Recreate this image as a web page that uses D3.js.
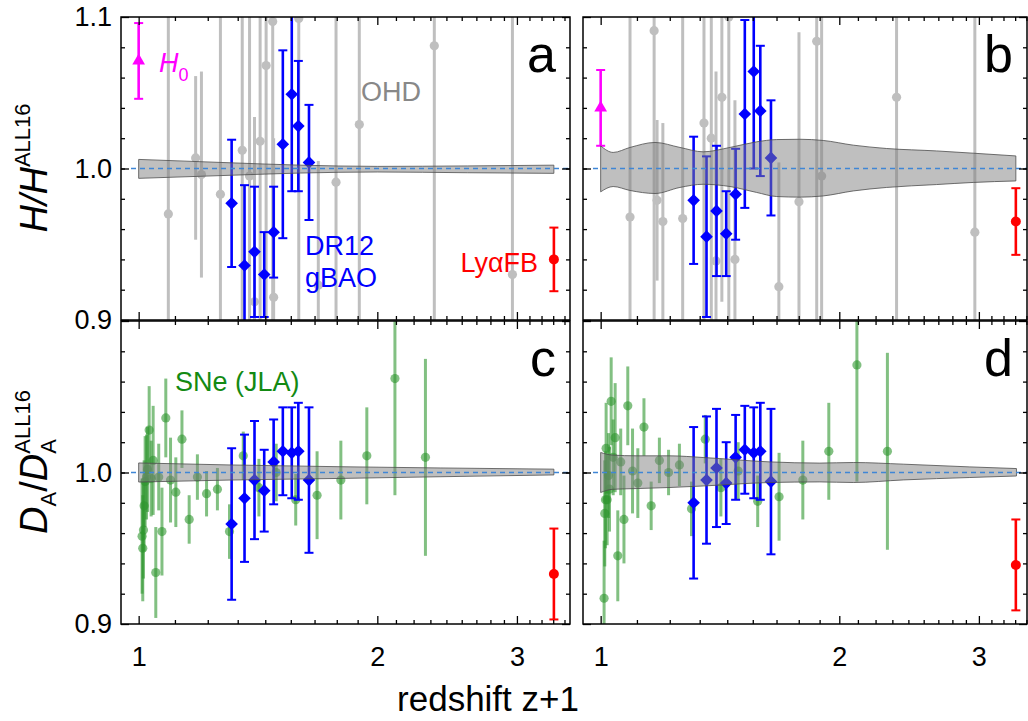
<!DOCTYPE html>
<html>
<head>
<meta charset="utf-8">
<script src="https://cdn.jsdelivr.net/npm/d3@7"></script>
<style>
  body { margin: 0; background: #fff; }
  text { font-family: "Liberation Sans", Arial, sans-serif; }
</style>
</head>
<body>
<svg id="chart" width="1028" height="721"></svg>
<script>
// ---- data (x is redshift 1+z) ----

// DR12 galaxy BAO (tomographic bins)
var baoZ = [1.31, 1.36, 1.40, 1.44, 1.48, 1.52, 1.56, 1.59, 1.64];
var baoH_a = [0.977, 0.936, 0.945, 0.930, 0.958, 1.016, 1.049, 1.028, 1.004];
var baoH_b = [0.979, 0.955, 0.972, 0.957, 0.983, 1.036, 1.064, 1.038, 1.007];
var baoHerr = [0.042, 0.053, 0.043, 0.028, 0.030, 0.062, 0.064, 0.043, 0.038];
var baoDA_c = [0.966, 0.983, 0.995, 0.988, 1.007, 1.014, 1.013, 1.014, 0.995];
var baoDA_d = [0.980, 0.995, 1.003, 0.993, 1.010, 1.015, 1.013, 1.014, 0.994];
var baoDAerr = [0.050, 0.042, 0.039, 0.027, 0.028, 0.029, 0.030, 0.032, 0.048];

// JLA supernovae (binned)
var jlaZ = [1.010, 1.012, 1.014, 1.016, 1.019, 1.023, 1.026, 1.031, 1.037, 1.043, 1.051,
            1.060, 1.070, 1.082, 1.097, 1.114, 1.134, 1.158, 1.186, 1.218, 1.257, 1.302,
            1.355, 1.418, 1.491, 1.578, 1.679, 1.799, 1.940, 2.105, 2.300];
var jlaDA_c = [0.958, 0.950, 0.962, 0.978, 0.994, 0.997, 1.002, 1.028, 0.996, 1.008, 0.934,
               0.997, 0.961, 1.036, 0.995, 0.987, 1.022, 0.969, 0.997, 0.986, 0.989, 0.961,
               1.011, 0.990, 1.000, 0.982, 0.985, 0.995, 1.011, 1.062, 1.010];
var jlaDA_d = [0.917, 0.973, 0.982, 1.016, 0.982, 0.998, 0.989, 1.047, 1.010, 1.023, 0.945,
               1.007, 0.969, 1.044, 1.001, 0.993, 1.030, 0.978, 1.008, 1.000, 1.005, 0.976,
               1.022, 0.990, 1.001, 0.981, 0.984, 0.995, 1.014, 1.071, 1.014];
var jlaErr = [0.038, 0.035, 0.032, 0.030, 0.030, 0.028, 0.028, 0.029, 0.025, 0.036, 0.030,
              0.022, 0.029, 0.026, 0.028, 0.023, 0.019, 0.016, 0.015, 0.015, 0.014, 0.018,
              0.016, 0.019, 0.019, 0.017, 0.029, 0.026, 0.032, 0.077, 0.065];

// OHD (cosmic chronometers), panel a and panel b
var ohdZa = [1.090, 1.180, 1.200, 1.268, 1.351, 1.380, 1.400, 1.423, 1.448, 1.476, 1.480,
             1.592, 1.685, 1.774, 1.898, 2.360, 2.961];
var ohdHa = [0.970, 1.007, 0.996, 0.983, 1.012, 0.995, 0.912, 1.018, 1.068, 1.097, 0.915,
             1.099, 0.923, 0.991, 1.029, 1.081, 0.930];
var ohdErrA = [0.20, 0.054, 0.068, 0.20, 0.20, 0.20, 0.122, 0.20, 0.20, 0.20, 0.105,
               0.20, 0.082, 0.20, 0.20, 0.20, 0.20];
var ohdZb = [1.089, 1.168, 1.178, 1.198, 1.269, 1.350, 1.379, 1.398, 1.422, 1.451, 1.477,
             1.678, 1.779, 1.873, 1.900, 2.362, 2.965];
var ohdHb = [0.968, 1.091, 0.979, 0.965, 0.967, 1.030, 1.020, 0.939, 1.047, 1.100, 0.940,
             0.922, 0.978, 1.084, 0.995, 1.047, 0.958];
var ohdErrB = [0.20, 0.20, 0.053, 0.065, 0.20, 0.20, 0.20, 0.125, 0.135, 0.20, 0.105,
               0.082, 0.112, 0.20, 0.20, 0.20, 0.20];

// H0 (z=0) in panels a, b ; Ly-alpha forest BAO in panels a, b, c, d
var h0Z = 1.0;
var h0Val = [1.071, 1.040];
var h0Err = [0.025, 0.025];
var lyaZ = 3.34;
var lyaVal = [0.940, 0.965, 0.933, 0.939];
var lyaErr = [0.021, 0.022, 0.030, 0.030];

// reconstruction bands
var bandZa = [1.0, 1.3, 1.6, 2.0, 2.6, 3.34];
var bandLoA = [0.9935, 0.9955, 0.9970, 0.9977, 0.9972, 0.9968];
var bandHiA = [1.0060, 1.0038, 1.0022, 1.0014, 1.0017, 1.0022];

var bandZb = [1.000, 1.037, 1.089, 1.171, 1.259, 1.347, 1.456, 1.573, 1.667, 1.784, 1.909,
              2.083, 2.295, 2.653, 2.951, 3.340];
var bandHiB = [1.0149, 1.0106, 1.0139, 1.0172, 1.0139, 1.0110, 1.0139, 1.0176, 1.0191, 1.0193,
               1.0185, 1.0154, 1.0132, 1.0116, 1.0101, 1.0083];
var bandLoB = [0.9846, 0.9881, 0.9855, 0.9835, 0.9875, 0.9896, 0.9881, 0.9842, 0.9815, 0.9811,
               0.9819, 0.9852, 0.9875, 0.9894, 0.9908, 0.9918];

var bandZc = [1.0, 1.3, 1.8, 2.4, 3.34];
var bandHiC = [1.0063, 1.0050, 1.0038, 1.0030, 1.0022];
var bandLoC = [0.9937, 0.9950, 0.9961, 0.9972, 0.9984];

var bandZd = [1.000, 1.034, 1.111, 1.223, 1.347, 1.635, 1.890, 2.083, 2.408, 2.922, 3.346];
var bandHiD = [1.0132, 1.0115, 1.0110, 1.0110, 1.0099, 1.0070, 1.0062, 1.0066, 1.0055, 1.0037, 1.0026];
var bandLoD = [0.9868, 0.9889, 0.9894, 0.9901, 0.9911, 0.9934, 0.9938, 0.9934, 0.9951, 0.9967, 0.9977];

var xMajor = [1, 2, 3];
var yMajor = [0.9, 1.0, 1.1];

// ---- layout ----
var cols = [{ left: 121, right: 570, dom: [0.95, 3.5] },
            { left: 583, right: 1027, dom: [0.95, 3.45] }];
var rows = [{ top: 17, bottom: 320 }, { top: 321, bottom: 624 }];

var panels = [
  { key: "a", col: 0, row: 0, ohd: [ohdZa, ohdHa, ohdErrA], bao: [baoH_a, baoHerr], h0: 0, lya: 0,
    band: [bandZa, bandLoA, bandHiA] },
  { key: "b", col: 1, row: 0, ohd: [ohdZb, ohdHb, ohdErrB], bao: [baoH_b, baoHerr], h0: 1, lya: 1,
    band: [bandZb, bandLoB, bandHiB] },
  { key: "c", col: 0, row: 1, jla: [jlaDA_c, jlaErr], bao: [baoDA_c, baoDAerr], lya: 2,
    band: [bandZc, bandLoC, bandHiC] },
  { key: "d", col: 1, row: 1, jla: [jlaDA_d, jlaErr], bao: [baoDA_d, baoDAerr], lya: 3,
    band: [bandZd, bandLoD, bandHiD] }
];

var svg = d3.select("#chart");
var defs = svg.append("defs");

var GRAY = "#bfbfbf", GREEN = "#2f962f", BLUE = "#0000ff", MAG = "#ff00ff", RED = "#ff0000";

function minorX(dom) {
  var out = [];
  xMajor.forEach(function (m) {
    for (var k = 1; k < 9; k++) {
      var v = m + k / 9;
      if (v > dom[0] && v < dom[1]) out.push(v);
    }
  });
  return out;
}

// vertical error bars with optional caps
function errBars(g, xs, vs, es, x, y, color, w, cap, op) {
  var idx = d3.range(xs.length);
  g.selectAll(null).data(idx).enter().append("line")
    .attr("x1", function (i) { return x(xs[i]); })
    .attr("x2", function (i) { return x(xs[i]); })
    .attr("y1", function (i) { return y(vs[i] + es[i]); })
    .attr("y2", function (i) { return y(vs[i] - es[i]); })
    .attr("stroke", color).attr("stroke-width", w).attr("stroke-opacity", op);
  if (cap > 0) {
    [1, -1].forEach(function (s) {
      g.selectAll(null).data(idx).enter().append("line")
        .attr("x1", function (i) { return x(xs[i]) - cap; })
        .attr("x2", function (i) { return x(xs[i]) + cap; })
        .attr("y1", function (i) { return y(vs[i] + s * es[i]); })
        .attr("y2", function (i) { return y(vs[i] + s * es[i]); })
        .attr("stroke", color).attr("stroke-width", 2);
    });
  }
}

panels.forEach(function (p) {
  var c = cols[p.col], r = rows[p.row];
  var x = d3.scaleLog().domain(c.dom).range([c.left, c.right]);
  var y = d3.scaleLinear().domain([0.9, 1.1]).range([r.bottom, r.top]);

  defs.append("clipPath").attr("id", "clip-" + p.key).append("rect")
    .attr("x", c.left).attr("y", r.top)
    .attr("width", c.right - c.left).attr("height", r.bottom - r.top);

  var g = svg.append("g").attr("clip-path", "url(#clip-" + p.key + ")");

  if (p.ohd) {
    errBars(g, p.ohd[0], p.ohd[1], p.ohd[2], x, y, GRAY, 3, 0, 1);
    g.selectAll(null).data(p.ohd[0]).enter().append("circle")
      .attr("cx", function (d) { return x(d); })
      .attr("cy", function (d, i) { return y(p.ohd[1][i]); })
      .attr("r", 4.6).attr("fill", GRAY);
  }
  if (p.jla) {
    errBars(g, jlaZ, p.jla[0], p.jla[1], x, y, GREEN, 3, 0, 0.6);
    g.selectAll(null).data(jlaZ).enter().append("circle")
      .attr("cx", function (d) { return x(d); })
      .attr("cy", function (d, i) { return y(p.jla[0][i]); })
      .attr("r", 4.6).attr("fill", GREEN).attr("fill-opacity", 0.6);
  }

  // DR12 gBAO
  errBars(g, baoZ, p.bao[0], p.bao[1], x, y, BLUE, 2.6, 4.5, 1);
  g.selectAll(null).data(baoZ).enter().append("path")
    .attr("d", d3.symbol(d3.symbolSquare, 80)())
    .attr("transform", function (d, i) {
      return "translate(" + x(d) + "," + y(p.bao[0][i]) + ") rotate(45)";
    })
    .attr("fill", BLUE);

  if (p.h0 !== undefined) {
    var hi = p.h0;
    errBars(g, [h0Z], [h0Val[hi]], [h0Err[hi]], x, y, MAG, 2.6, 4.5, 1);
    g.append("path").attr("d", d3.symbol(d3.symbolTriangle, 70)())
      .attr("transform", "translate(" + x(h0Z) + "," + y(h0Val[hi]) + ")")
      .attr("fill", MAG);
  }
  var li = p.lya;
  errBars(g, [lyaZ], [lyaVal[li]], [lyaErr[li]], x, y, RED, 2.6, 4.5, 1);
  g.append("circle").attr("cx", x(lyaZ)).attr("cy", y(lyaVal[li])).attr("r", 5).attr("fill", RED);

  // reconstruction band
  var bz = p.band[0], blo = p.band[1], bhi = p.band[2];
  var area = d3.area()
    .x(function (d) { return x(d); })
    .y0(function (d, i) { return y(blo[i]); })
    .y1(function (d, i) { return y(bhi[i]); })
    .curve(d3.curveMonotoneX);
  g.append("path").datum(bz).attr("d", area)
    .attr("fill", "#808080").attr("fill-opacity", 0.5)
    .attr("stroke", "#4d4d4d").attr("stroke-width", 0.8);

  // reference line
  g.append("line")
    .attr("x1", c.left + 10).attr("x2", c.right)
    .attr("y1", y(1)).attr("y2", y(1))
    .attr("stroke", "#3f86d6").attr("stroke-width", 1.3)
    .attr("stroke-dasharray", "5,4");

  // axes: inward ticks on all four sides
  var mx = minorX(c.dom);
  var my = d3.range(0.92, 1.09, 0.02);
  var showX = p.row === 1, showY = p.col === 0;
  var yLab = p.row === 0 ? yMajor : [0.9, 1.0];

  function styleAxis(sel) {
    sel.select(".domain").remove();
    sel.selectAll("line").attr("stroke", "#000").attr("stroke-width", 1.3);
    sel.selectAll("text").attr("font-size", 27).attr("fill", "#000")
      .attr("font-family", '"Liberation Sans", Arial, sans-serif');
  }
  svg.append("g").attr("transform", "translate(0," + r.bottom + ")")
    .call(d3.axisBottom(x).tickValues(xMajor).tickSize(-8).tickPadding(23)
      .tickFormat(showX ? d3.format("d") : function () { return ""; }))
    .call(styleAxis);
  svg.append("g").attr("transform", "translate(0," + r.bottom + ")")
    .call(d3.axisBottom(x).tickValues(mx).tickSize(-4).tickFormat(""))
    .call(styleAxis);
  svg.append("g").attr("transform", "translate(0," + r.top + ")")
    .call(d3.axisTop(x).tickValues(xMajor).tickSize(-8).tickFormat(""))
    .call(styleAxis);
  svg.append("g").attr("transform", "translate(0," + r.top + ")")
    .call(d3.axisTop(x).tickValues(mx).tickSize(-4).tickFormat(""))
    .call(styleAxis);

  svg.append("g").attr("transform", "translate(" + c.left + ",0)")
    .call(d3.axisLeft(y).tickValues(yMajor).tickSize(-8).tickPadding(9)
      .tickFormat(function (d) {
        return showY && yLab.some(function (v) { return Math.abs(v - d) < 1e-9; }) ? d3.format(".1f")(d) : "";
      }))
    .call(styleAxis);
  svg.append("g").attr("transform", "translate(" + c.left + ",0)")
    .call(d3.axisLeft(y).tickValues(my).tickSize(-4).tickFormat(""))
    .call(styleAxis);
  svg.append("g").attr("transform", "translate(" + c.right + ",0)")
    .call(d3.axisRight(y).tickValues(yMajor).tickSize(-8).tickFormat(""))
    .call(styleAxis);
  svg.append("g").attr("transform", "translate(" + c.right + ",0)")
    .call(d3.axisRight(y).tickValues(my).tickSize(-4).tickFormat(""))
    .call(styleAxis);

  svg.append("rect")
    .attr("x", c.left).attr("y", r.top)
    .attr("width", c.right - c.left).attr("height", r.bottom - r.top)
    .attr("fill", "none").attr("stroke", "#000").attr("stroke-width", 1.5);

  // panel letter
  svg.append("text").attr("x", c.right - 14).attr("y", r.top + 55)
    .attr("text-anchor", "end").attr("font-size", 52).text(p.key);
});

// ---- annotations ----
var lab = svg.append("g").attr("font-size", 27);
var h0t = lab.append("text").attr("x", 159).attr("y", 72).attr("fill", MAG);
h0t.append("tspan").attr("font-style", "italic").text("H");
h0t.append("tspan").attr("font-size", 18).attr("dy", 9).text("0");
lab.append("text").attr("x", 361).attr("y", 101).attr("fill", "#888888").text("OHD");
lab.append("text").attr("x", 305).attr("y", 255).attr("fill", BLUE).text("DR12");
lab.append("text").attr("x", 305).attr("y", 287).attr("fill", BLUE).text("gBAO");
lab.append("text").attr("x", 538).attr("y", 272).attr("text-anchor", "end").attr("fill", RED).text("Ly\u03b1FB");
lab.append("text").attr("x", 175).attr("y", 391).attr("fill", "#138a13").text("SNe (JLA)");

// axis titles
svg.append("text").attr("x", 488).attr("y", 711).attr("text-anchor", "middle")
  .attr("font-size", 35).text("redshift z+1");

var t1 = svg.append("text").attr("text-anchor", "middle")
  .attr("transform", "translate(47,168) rotate(-90)").attr("font-size", 38);
t1.append("tspan").attr("font-style", "italic").text("H/H");
t1.append("tspan").attr("font-size", 22).attr("dy", -17).text("ALL16");

var t2 = svg.append("text").attr("text-anchor", "middle")
  .attr("transform", "translate(47,462) rotate(-90)").attr("font-size", 38);
t2.append("tspan").attr("font-style", "italic").text("D");
t2.append("tspan").attr("font-size", 22).attr("dy", 9).text("A");
t2.append("tspan").attr("dy", -9).text("/");
t2.append("tspan").attr("font-style", "italic").text("D");
t2.append("tspan").attr("font-size", 22).attr("dy", 9).text("A");
t2.append("tspan").attr("font-size", 22).attr("dx", -14.7).attr("dy", -26).text("ALL16");
</script>
</body>
</html>
